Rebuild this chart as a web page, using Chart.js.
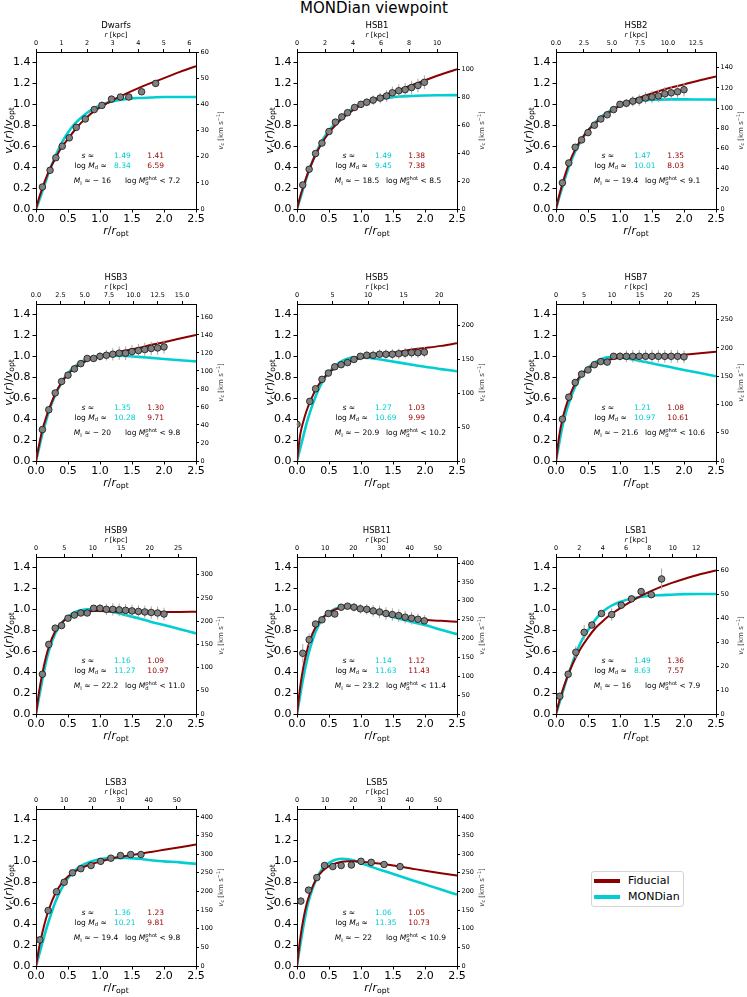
<!DOCTYPE html>
<html>
<head>
<meta charset="utf-8">
<script src="https://cdn.jsdelivr.net/npm/chart.js@4.4.1/dist/chart.umd.min.js"></script>
<style>
  html, body { margin: 0; padding: 0; background: #fff; overflow: hidden; }
  #fig { position: relative; width: 747px; height: 997px; font-family: "DejaVu Sans", sans-serif; }
  #title { position: absolute; left: 0; top: 0; width: 748px; text-align: center; font-size: 15px; line-height: 17px; }
  canvas { position: absolute; }
  #legend { position: absolute; left: 591px; top: 871px; width: 91px; height: 34px; border: 1px solid #d4d4d4; border-radius: 3px; background: #fff; font-size: 11px; }
  #legend .row { position: absolute; left: 2px; height: 16px; line-height: 16px; white-space: nowrap; }
  #legend .sw { display: inline-block; width: 26px; height: 3.5px; vertical-align: middle; margin-right: 8px; }
</style>
</head>
<body>
<div id="fig">
  <div id="title">MONDian viewpoint</div>
  <div id="legend">
    <div class="row" style="top:1px"><span class="sw" style="background:#8b0000"></span>Fiducial</div>
    <div class="row" style="top:17px"><span class="sw" style="background:#00ced1"></span>MONDian</div>
  </div>
</div>
<script>
// panels, left to right, top to bottom
const panelNames = ['Dwarfs', 'HSB1', 'HSB2', 'HSB3', 'HSB5', 'HSB7', 'HSB9', 'HSB11', 'LSB1', 'LSB3', 'LSB5'];

// common axes
const xTicks = [0, 0.5, 1.0, 1.5, 2.0, 2.5];
const yTicks = [0, 0.2, 0.4, 0.6, 0.8, 1.0, 1.2, 1.4];
// secondary axes: r [kpc] on top, v_c [km/s] on the right
const kpcMax = [6.26, 11.42, 14.29, 16.43, 22.5, 28.6, 28.15, 56.8, 13.7, 56.8, 56.8];
const kpcStep = [1, 2, 2.5, 2.5, 5, 5, 5, 10, 2, 10, 10];
const vMax = [60, 112.7, 155.6, 174.4, 231.4, 277.6, 338, 416, 65.7, 421, 421];
const vStep = [10, 20, 20, 20, 50, 50, 50, 50, 10, 50, 50];

// fit parameters printed in each panel
const sMond = ['1.49', '1.49', '1.47', '1.35', '1.27', '1.21', '1.16', '1.14', '1.49', '1.36', '1.06'];
const sFid = ['1.41', '1.38', '1.35', '1.30', '1.03', '1.08', '1.09', '1.12', '1.36', '1.23', '1.05'];
const logMdMond = ['8.34', '9.45', '10.01', '10.28', '10.69', '10.97', '11.27', '11.63', '8.63', '10.21', '11.35'];
const logMdFid = ['6.59', '7.38', '8.03', '9.71', '9.99', '10.61', '10.97', '11.43', '7.57', '9.81', '10.73'];
const magI = ['16', '18.5', '19.4', '20', '20.9', '21.6', '22.2', '23.2', '16', '19.4', '22'];
const logMphot = ['7.2', '8.5', '9.1', '9.8', '10.2', '10.6', '11.0', '11.4', '7.9', '9.8', '10.9'];

// model curves sampled at r/r_opt
const curveR = [0, 0.05, 0.1, 0.15, 0.2, 0.3, 0.4, 0.5, 0.6, 0.7, 0.8, 0.9, 1.0, 1.2, 1.4, 1.6, 1.8, 2.0, 2.25, 2.5];

// observed points: r/r_opt, v/v_opt, error; fiducial and MONDian curves
const rDwarfs = [0.10, 0.22, 0.31, 0.41, 0.52, 0.63, 0.77, 0.91, 1.03, 1.18, 1.32, 1.45, 1.65, 1.87];
const vDwarfs = [0.21, 0.37, 0.49, 0.60, 0.68, 0.78, 0.86, 0.95, 0.99, 1.05, 1.07, 1.07, 1.12, 1.20];
const eDwarfs = [0.01, 0.01, 0.01, 0.01, 0.01, 0.01, 0.01, 0.01, 0.01, 0.01, 0.01, 0.01, 0.015, 0.02];
const fidDwarfs = [0, 0.11, 0.20, 0.285, 0.36, 0.48, 0.59, 0.67, 0.75, 0.82, 0.88, 0.93, 0.97, 1.04, 1.10, 1.155, 1.205, 1.25, 1.31, 1.365];
const mondDwarfs = [0, 0.08, 0.17, 0.26, 0.35, 0.50, 0.63, 0.73, 0.81, 0.87, 0.92, 0.96, 0.99, 1.03, 1.05, 1.06, 1.065, 1.07, 1.07, 1.07];

const rHSB1 = [0.09, 0.19, 0.29, 0.39, 0.50, 0.60, 0.70, 0.79, 0.90, 1.00, 1.09, 1.19, 1.30, 1.40, 1.49, 1.59, 1.69, 1.79, 1.89, 1.99];
const vHSB1 = [0.23, 0.38, 0.53, 0.63, 0.74, 0.83, 0.88, 0.92, 0.97, 1.00, 1.02, 1.04, 1.06, 1.08, 1.11, 1.13, 1.14, 1.16, 1.18, 1.21];
const eHSB1 = [0.01, 0.01, 0.01, 0.01, 0.015, 0.015, 0.02, 0.02, 0.03, 0.03, 0.04, 0.045, 0.05, 0.055, 0.06, 0.06, 0.065, 0.065, 0.065, 0.065];
const fidHSB1 = [0, 0.12, 0.22, 0.31, 0.39, 0.53, 0.64, 0.73, 0.80, 0.86, 0.91, 0.955, 0.99, 1.045, 1.095, 1.14, 1.185, 1.23, 1.285, 1.335];
const mondHSB1 = [0, 0.10, 0.20, 0.30, 0.39, 0.54, 0.66, 0.75, 0.82, 0.88, 0.93, 0.97, 1.00, 1.04, 1.06, 1.075, 1.08, 1.085, 1.087, 1.088];

const rHSB2 = [0.10, 0.20, 0.30, 0.40, 0.50, 0.60, 0.70, 0.80, 0.90, 1.00, 1.10, 1.20, 1.30, 1.40, 1.50, 1.60, 1.70, 1.80, 1.90, 2.00];
const vHSB2 = [0.25, 0.44, 0.59, 0.66, 0.73, 0.80, 0.86, 0.90, 0.95, 1.00, 1.01, 1.03, 1.04, 1.06, 1.07, 1.08, 1.10, 1.11, 1.12, 1.14];
const eHSB2 = [0.01, 0.01, 0.01, 0.015, 0.015, 0.015, 0.02, 0.02, 0.03, 0.03, 0.04, 0.05, 0.055, 0.055, 0.06, 0.06, 0.065, 0.065, 0.065, 0.065];
const fidHSB2 = [0, 0.13, 0.24, 0.34, 0.43, 0.57, 0.67, 0.75, 0.81, 0.865, 0.91, 0.95, 0.985, 1.04, 1.085, 1.125, 1.16, 1.19, 1.23, 1.265];
const mondHSB2 = [0, 0.11, 0.21, 0.31, 0.40, 0.55, 0.66, 0.75, 0.82, 0.88, 0.92, 0.96, 0.99, 1.025, 1.04, 1.045, 1.047, 1.047, 1.046, 1.045];

const rHSB3 = [0.10, 0.20, 0.30, 0.40, 0.50, 0.60, 0.70, 0.80, 0.90, 1.00, 1.10, 1.20, 1.30, 1.40, 1.50, 1.60, 1.70, 1.80, 1.90, 2.00];
const vHSB3 = [0.30, 0.49, 0.65, 0.76, 0.82, 0.88, 0.93, 0.98, 0.98, 1.00, 1.01, 1.02, 1.03, 1.03, 1.045, 1.055, 1.065, 1.075, 1.08, 1.09];
const eHSB3 = [0.01, 0.01, 0.01, 0.01, 0.015, 0.015, 0.02, 0.02, 0.03, 0.04, 0.05, 0.06, 0.065, 0.065, 0.065, 0.065, 0.065, 0.065, 0.065, 0.065];
const fidHSB3 = [0, 0.16, 0.30, 0.40, 0.49, 0.64, 0.75, 0.83, 0.885, 0.93, 0.96, 0.985, 1.0, 1.03, 1.055, 1.08, 1.11, 1.135, 1.17, 1.205];
const mondHSB3 = [0, 0.13, 0.26, 0.37, 0.47, 0.63, 0.75, 0.84, 0.90, 0.945, 0.975, 0.99, 1.0, 1.005, 1.003, 0.995, 0.985, 0.975, 0.963, 0.952];

const rHSB5 = [0.0, 0.20, 0.29, 0.39, 0.49, 0.59, 0.69, 0.79, 0.89, 0.99, 1.09, 1.19, 1.29, 1.39, 1.49, 1.59, 1.69, 1.79, 1.89, 1.99];
const vHSB5 = [0.35, 0.57, 0.69, 0.78, 0.84, 0.90, 0.92, 0.94, 0.97, 1.00, 1.01, 1.01, 1.02, 1.02, 1.02, 1.025, 1.03, 1.035, 1.035, 1.04];
const eHSB5 = [0.01, 0.01, 0.01, 0.01, 0.015, 0.015, 0.02, 0.02, 0.03, 0.03, 0.04, 0.045, 0.045, 0.045, 0.05, 0.05, 0.05, 0.05, 0.05, 0.05];
const fidHSB5 = [0, 0.25, 0.38, 0.48, 0.56, 0.69, 0.78, 0.845, 0.89, 0.925, 0.95, 0.97, 0.985, 1.005, 1.025, 1.045, 1.065, 1.08, 1.10, 1.125];
const mondHSB5 = [0, 0.12, 0.24, 0.36, 0.46, 0.63, 0.76, 0.85, 0.91, 0.955, 0.98, 0.99, 0.99, 0.98, 0.96, 0.94, 0.92, 0.90, 0.878, 0.857];

const rHSB7 = [0.10, 0.20, 0.30, 0.40, 0.50, 0.60, 0.70, 0.80, 0.90, 1.00, 1.10, 1.20, 1.30, 1.40, 1.50, 1.60, 1.70, 1.80, 1.90, 2.00];
const vHSB7 = [0.40, 0.61, 0.75, 0.83, 0.87, 0.92, 0.95, 0.945, 1.0, 1.0, 1.0, 1.0, 1.0, 1.0, 1.0, 1.0, 1.0, 1.0, 1.0, 0.995];
const eHSB7 = [0.01, 0.01, 0.015, 0.015, 0.015, 0.02, 0.02, 0.02, 0.03, 0.04, 0.055, 0.06, 0.06, 0.06, 0.06, 0.06, 0.06, 0.06, 0.06, 0.06];
const fidHSB7 = [0, 0.24, 0.40, 0.51, 0.60, 0.74, 0.83, 0.88, 0.92, 0.945, 0.965, 0.977, 0.985, 0.99, 0.993, 0.998, 1.005, 1.015, 1.03, 1.045];
const mondHSB7 = [0, 0.17, 0.33, 0.45, 0.55, 0.71, 0.82, 0.89, 0.94, 0.97, 0.99, 0.995, 0.99, 0.97, 0.945, 0.92, 0.895, 0.87, 0.84, 0.81];

const rHSB9 = [0.10, 0.20, 0.30, 0.40, 0.50, 0.60, 0.70, 0.80, 0.90, 1.00, 1.10, 1.20, 1.30, 1.40, 1.50, 1.60, 1.70, 1.80, 1.90, 2.00];
const vHSB9 = [0.38, 0.665, 0.82, 0.845, 0.915, 0.945, 0.965, 0.965, 1.01, 1.01, 1.0, 1.0, 0.995, 0.99, 0.985, 0.98, 0.975, 0.97, 0.965, 0.955];
const eHSB9 = [0.01, 0.01, 0.015, 0.015, 0.015, 0.02, 0.02, 0.02, 0.03, 0.04, 0.055, 0.06, 0.06, 0.06, 0.06, 0.06, 0.06, 0.06, 0.06, 0.06];
const fidHSB9 = [0, 0.22, 0.39, 0.53, 0.64, 0.79, 0.87, 0.92, 0.95, 0.97, 0.98, 0.985, 0.985, 0.98, 0.977, 0.975, 0.974, 0.974, 0.975, 0.978];
const mondHSB9 = [0, 0.17, 0.33, 0.48, 0.60, 0.77, 0.87, 0.93, 0.97, 0.99, 1.0, 1.0, 0.99, 0.975, 0.945, 0.915, 0.88, 0.85, 0.81, 0.77];

const rHSB11 = [0.09, 0.19, 0.29, 0.39, 0.49, 0.59, 0.69, 0.79, 0.89, 0.99, 1.09, 1.19, 1.29, 1.39, 1.49, 1.59, 1.69, 1.79, 1.89, 1.99];
const vHSB11 = [0.58, 0.71, 0.86, 0.90, 0.96, 0.955, 1.02, 1.03, 1.02, 1.005, 1.0, 0.985, 0.975, 0.96, 0.95, 0.94, 0.925, 0.915, 0.905, 0.89];
const eHSB11 = [0.09, 0.06, 0.03, 0.03, 0.02, 0.02, 0.03, 0.03, 0.04, 0.045, 0.05, 0.055, 0.06, 0.06, 0.06, 0.06, 0.06, 0.06, 0.055, 0.055];
const fidHSB11 = [0, 0.26, 0.45, 0.59, 0.70, 0.84, 0.92, 0.97, 1.0, 1.015, 1.02, 1.015, 1.005, 0.98, 0.957, 0.935, 0.915, 0.90, 0.89, 0.882];
const mondHSB11 = [0, 0.18, 0.35, 0.50, 0.62, 0.80, 0.91, 0.97, 1.005, 1.025, 1.03, 1.02, 1.005, 0.975, 0.945, 0.91, 0.88, 0.85, 0.805, 0.763];

const rLSB1 = [0.06, 0.19, 0.31, 0.44, 0.56, 0.71, 0.87, 1.02, 1.18, 1.33, 1.49, 1.65];
const vLSB1 = [0.17, 0.38, 0.59, 0.78, 0.85, 0.96, 0.95, 1.04, 1.10, 1.17, 1.14, 1.29];
const eLSB1 = [0.02, 0.035, 0.06, 0.07, 0.02, 0.025, 0.06, 0.025, 0.02, 0.02, 0.015, 0.10];
const fidLSB1 = [0, 0.12, 0.22, 0.31, 0.39, 0.53, 0.64, 0.73, 0.81, 0.87, 0.925, 0.97, 1.01, 1.085, 1.15, 1.205, 1.25, 1.29, 1.335, 1.372];
const mondLSB1 = [0, 0.10, 0.20, 0.30, 0.39, 0.56, 0.70, 0.80, 0.89, 0.96, 1.01, 1.045, 1.07, 1.105, 1.125, 1.135, 1.14, 1.145, 1.146, 1.146];

const rLSB3 = [0.06, 0.19, 0.32, 0.44, 0.57, 0.70, 0.86, 1.01, 1.17, 1.32, 1.48, 1.64];
const vLSB3 = [0.25, 0.53, 0.71, 0.80, 0.89, 0.93, 0.96, 1.00, 1.03, 1.055, 1.065, 1.065];
const eLSB3 = [0.01, 0.01, 0.01, 0.01, 0.01, 0.01, 0.01, 0.01, 0.01, 0.015, 0.015, 0.015];
const fidLSB3 = [0, 0.18, 0.32, 0.44, 0.54, 0.69, 0.79, 0.855, 0.90, 0.935, 0.96, 0.98, 0.997, 1.03, 1.05, 1.07, 1.09, 1.11, 1.135, 1.16];
const mondLSB3 = [0, 0.11, 0.22, 0.33, 0.43, 0.61, 0.74, 0.84, 0.91, 0.955, 0.985, 1.005, 1.02, 1.033, 1.033, 1.025, 1.01, 1.0, 0.99, 0.976];

const rLSB5 = [0.06, 0.18, 0.31, 0.43, 0.56, 0.69, 0.85, 1.00, 1.16, 1.36, 1.61];
const vLSB5 = [0.62, 0.725, 0.845, 0.96, 0.95, 0.96, 0.965, 1.0, 0.99, 0.97, 0.95];
const eLSB5 = [0.035, 0.025, 0.02, 0.02, 0.015, 0.015, 0.015, 0.015, 0.015, 0.02, 0.025];
const fidLSB5 = [0, 0.26, 0.45, 0.59, 0.69, 0.83, 0.91, 0.955, 0.98, 0.995, 1.0, 1.0, 0.997, 0.985, 0.97, 0.95, 0.93, 0.91, 0.887, 0.865];
const mondLSB5 = [0, 0.20, 0.38, 0.54, 0.66, 0.83, 0.93, 0.985, 1.015, 1.025, 1.02, 1.005, 0.985, 0.94, 0.90, 0.86, 0.82, 0.78, 0.73, 0.683];

const pointR = [rDwarfs, rHSB1, rHSB2, rHSB3, rHSB5, rHSB7, rHSB9, rHSB11, rLSB1, rLSB3, rLSB5];
const pointV = [vDwarfs, vHSB1, vHSB2, vHSB3, vHSB5, vHSB7, vHSB9, vHSB11, vLSB1, vLSB3, vLSB5];
const pointE = [eDwarfs, eHSB1, eHSB2, eHSB3, eHSB5, eHSB7, eHSB9, eHSB11, eLSB1, eLSB3, eLSB5];
const fidCurves = [fidDwarfs, fidHSB1, fidHSB2, fidHSB3, fidHSB5, fidHSB7, fidHSB9, fidHSB11, fidLSB1, fidLSB3, fidLSB5];
const mondCurves = [mondDwarfs, mondHSB1, mondHSB2, mondHSB3, mondHSB5, mondHSB7, mondHSB9, mondHSB11, mondLSB1, mondLSB3, mondLSB5];

const RED = '#8b0000';
const CYAN = '#00ced1';
const FONT = '"DejaVu Sans", sans-serif';

// layout of the grid (plot area corners in page pixels)
const colLeft = [36, 297, 556];
const rowTop = [52, 304, 557, 809];
const PW = 160, PH = 157;
const ML = 36, MT = 52, MR = 34, MB = 34;

Chart.defaults.font.family = FONT;
Chart.defaults.color = '#000';

function fnt(size, it) {
  return (it ? 'italic ' : '') + size + 'px ' + FONT;
}

// draw text made of pieces: {t, i (italic), sub, sup, stack:[sub,sup], c (colour)}
function rich(ctx, parts, x, y, size, align, color) {
  const small = size * 0.7;
  const items = parts.map(p => {
    let w;
    if (p.stack) {
      ctx.font = fnt(small, false);
      w = Math.max(ctx.measureText(p.stack[0]).width, ctx.measureText(p.stack[1]).width);
    } else {
      ctx.font = fnt(p.sub || p.sup ? small : size, p.i);
      w = ctx.measureText(p.t).width;
    }
    return { p, w };
  });
  const total = items.reduce((a, b) => a + b.w, 0);
  let cx = align === 'center' ? x - total / 2 : (align === 'right' ? x - total : x);
  ctx.textAlign = 'left';
  ctx.textBaseline = 'alphabetic';
  items.forEach(({ p, w }) => {
    ctx.fillStyle = p.c || color;
    if (p.stack) {
      ctx.font = fnt(small, false);
      ctx.fillText(p.stack[0], cx, y + size * 0.25);
      ctx.fillText(p.stack[1], cx, y - size * 0.45);
    } else {
      ctx.font = fnt(p.sub || p.sup ? small : size, p.i);
      const dy = p.sub ? size * 0.22 : (p.sup ? -size * 0.42 : 0);
      ctx.fillText(p.t, cx, y + dy);
    }
    cx += w;
  });
}

function richRot(ctx, parts, cx, cy, size, color) {
  ctx.save();
  ctx.translate(cx, cy);
  ctx.rotate(-Math.PI / 2);
  rich(ctx, parts, 0, size * 0.36, size, 'center', color);
  ctx.restore();
}

function makeDecor(i) {
  return {
    id: 'decor' + i,
    beforeDatasetDraw(chart, args) {
      if (args.index !== 0) return;
      const { ctx, scales: { x, y } } = chart;
      ctx.save();
      ctx.strokeStyle = '#a8a8a8';
      ctx.lineWidth = 1;
      pointR[i].forEach((r, k) => {
        const px = x.getPixelForValue(r);
        ctx.beginPath();
        ctx.moveTo(px, y.getPixelForValue(pointV[i][k] - pointE[i][k]));
        ctx.lineTo(px, y.getPixelForValue(pointV[i][k] + pointE[i][k]));
        ctx.stroke();
      });
      ctx.restore();
    },
    afterDraw(chart) {
      const { ctx, chartArea: a, scales: { x, y } } = chart;
      const mid = (a.left + a.right) / 2, midY = (a.top + a.bottom) / 2;
      // axis labels
      rich(ctx, [{ t: panelNames[i] }], mid, a.top - 24, 8.5, 'center', '#000');
      rich(ctx, [{ t: 'r', i: 1 }, { t: ' [kpc]' }], mid, a.top - 15.5, 7, 'center', '#000');
      rich(ctx, [{ t: 'r', i: 1 }, { t: '/' }, { t: 'r', i: 1 }, { t: 'opt', sub: 1 }], mid, a.bottom + 25, 11, 'center', '#000');
      richRot(ctx, [{ t: 'v', i: 1 }, { t: 'c', sub: 1 }, { t: '(' }, { t: 'r', i: 1 }, { t: ')/' }, { t: 'v', i: 1 }, { t: 'opt', sub: 1 }],
        a.left - 28, midY, 11, '#000');
      richRot(ctx, [{ t: 'v', i: 1 }, { t: 'c', sub: 1 }, { t: ' [km s' }, { t: '\u22121', sup: 1 }, { t: ']' }],
        a.right + 24, midY, 7, '#333');
      // fit summary
      const fs = 7.5;
      const row = v => y.getPixelForValue(v) + fs * 0.36;
      rich(ctx, [{ t: 's', i: 1 }, { t: ' \u2248' }], x.getPixelForValue(0.71), row(0.51), fs, 'left', '#000');
      rich(ctx, [{ t: sMond[i], c: CYAN }], x.getPixelForValue(1.22), row(0.51), fs, 'left', '#000');
      rich(ctx, [{ t: sFid[i], c: '#9a0000' }], x.getPixelForValue(1.74), row(0.51), fs, 'left', '#000');
      rich(ctx, [{ t: 'log ' }, { t: 'M', i: 1 }, { t: 'd', sub: 1 }, { t: ' \u2248' }], x.getPixelForValue(0.60), row(0.42), fs, 'left', '#000');
      rich(ctx, [{ t: logMdMond[i], c: CYAN }], x.getPixelForValue(1.22), row(0.42), fs, 'left', '#000');
      rich(ctx, [{ t: logMdFid[i], c: '#9a0000' }], x.getPixelForValue(1.74), row(0.42), fs, 'left', '#000');
      rich(ctx, [{ t: 'M', i: 1 }, { t: 'I', sub: 1 }, { t: ' \u2248 \u2212 ' + magI[i] }], x.getPixelForValue(0.59), row(0.27), fs, 'left', '#000');
      rich(ctx, [{ t: 'log ' }, { t: 'M', i: 1 }, { stack: ['d', 'phot'] }, { t: ' < ' + logMphot[i] }], x.getPixelForValue(1.39), row(0.27), fs, 'left', '#000');
    }
  };
}

function axisStyle(size, tickLen, pad) {
  return {
    grid: { display: true, drawOnChartArea: false, drawTicks: true, tickLength: tickLen, color: '#000', lineWidth: 1 },
    border: { display: true, color: '#000', width: 1 },
    ticks: { font: { size: size }, color: '#000', padding: pad, maxRotation: 0, autoSkip: false }
  };
}

function stepTicks(max, step) {
  const out = [];
  for (let v = 0; v <= max + 1e-9; v += step) out.push({ value: Math.round(v * 100) / 100 });
  return out;
}

const fig = document.getElementById('fig');
panelNames.forEach((name, i) => {
  const col = i % 3, rowIdx = Math.floor(i / 3);
  const cv = document.createElement('canvas');
  cv.width = ML + PW + MR;
  cv.height = MT + PH + MB;
  cv.style.left = (colLeft[col] - ML) + 'px';
  cv.style.top = (rowTop[rowIdx] - MT) + 'px';
  fig.appendChild(cv);

  const xs = axisStyle(11, 3.5, 0);
  const ys = axisStyle(11, 3.5, 2);
  const x2s = axisStyle(6.5, 3, 1.5);
  const y2s = axisStyle(6.5, 3, 1.5);

  new Chart(cv, {
    type: 'line',
    data: {
      datasets: [
        {
          data: pointR[i].map((r, k) => ({ x: r, y: pointV[i][k] })),
          showLine: false, pointRadius: 3.3, pointBackgroundColor: '#808080',
          pointBorderColor: '#111', pointBorderWidth: 0.8, clip: 0
        },
        {
          data: curveR.map((r, k) => ({ x: r, y: fidCurves[i][k] })),
          borderColor: RED, borderWidth: 2, pointRadius: 0, cubicInterpolationMode: 'monotone', clip: 0
        },
        {
          data: curveR.map((r, k) => ({ x: r, y: mondCurves[i][k] })),
          borderColor: CYAN, borderWidth: 2.6, pointRadius: 0, cubicInterpolationMode: 'monotone', clip: 0
        }
      ]
    },
    options: {
      responsive: false,
      animation: false,
      events: [],
      layout: { padding: 0 },
      plugins: { legend: { display: false }, tooltip: { enabled: false } },
      scales: {
        x: Object.assign(xs, {
          type: 'linear', position: 'bottom', min: 0, max: 2.5,
          afterBuildTicks: s => { s.ticks = xTicks.map(v => ({ value: v })); },
          afterFit: s => { s.height = MB; },
          ticks: Object.assign(xs.ticks, { callback: v => v.toFixed(1) })
        }),
        x2: Object.assign(x2s, {
          type: 'linear', position: 'top', min: 0, max: kpcMax[i],
          afterBuildTicks: s => { s.ticks = stepTicks(kpcMax[i], kpcStep[i]); },
          afterFit: s => { s.height = MT; },
          ticks: Object.assign(x2s.ticks, { callback: v => (kpcStep[i] % 1 ? v.toFixed(1) : String(v)) })
        }),
        y: Object.assign(ys, {
          type: 'linear', position: 'left', min: 0, max: 1.5,
          afterBuildTicks: s => { s.ticks = yTicks.map(v => ({ value: v })); },
          afterFit: s => { s.width = ML; },
          ticks: Object.assign(ys.ticks, { callback: v => v.toFixed(1) })
        }),
        y2: Object.assign(y2s, {
          type: 'linear', position: 'right', min: 0, max: vMax[i],
          afterBuildTicks: s => { s.ticks = stepTicks(vMax[i], vStep[i]); },
          afterFit: s => { s.width = MR; },
          ticks: Object.assign(y2s.ticks, { callback: v => String(v) })
        })
      }
    },
    plugins: [makeDecor(i)]
  });
});
</script>
</body>
</html>
